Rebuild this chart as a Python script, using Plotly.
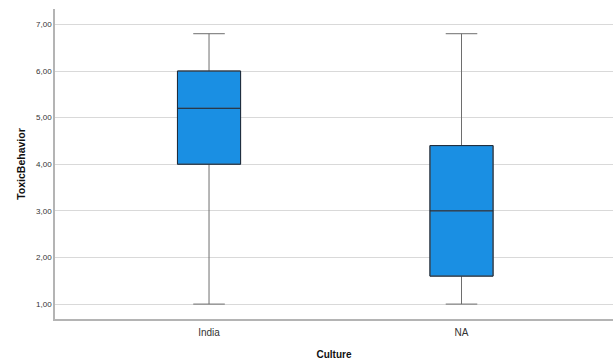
import plotly.graph_objects as go

categories = ["India", "NA"]
q1 = [4.0, 1.6]
median = [5.2, 3.0]
q3 = [6.0, 4.4]
lower = [1.0, 1.0]
upper = [6.8, 6.8]
y_ticks = [1, 2, 3, 4, 5, 6, 7]

fig = go.Figure()
# whiskers + box
fig.add_trace(go.Box(
    x=categories, q1=q1, median=median, q3=q3,
    lowerfence=lower, upperfence=upper,
    fillcolor="#1a8fe3", line=dict(color="#6e6e6e", width=1),
    width=0.25, whiskerwidth=0.5, boxpoints=False, hoverinfo="skip",
    showlegend=False,
))
# darker box outline and median
fig.add_trace(go.Box(
    x=categories, q1=q1, median=median, q3=q3,
    lowerfence=q1, upperfence=q3,
    fillcolor="rgba(0,0,0,0)", line=dict(color="#1a2a3c", width=1),
    width=0.25, whiskerwidth=0, boxpoints=False, hoverinfo="skip",
    showlegend=False,
))

fig.update_layout(
    width=613, height=360,
    margin=dict(l=55, r=0, t=9, b=41, pad=0, autoexpand=False),
    paper_bgcolor="white", plot_bgcolor="white",
    separators=",.",
    font=dict(family="Liberation Sans, Arial, sans-serif", color="#222"),
    boxmode="overlay",
    xaxis=dict(
        type="category", range=[-0.61, 1.60], automargin=False,
        showline=True, linecolor="#b4b4b4", linewidth=1.5,
        showgrid=False, ticks="", tickfont=dict(size=10, color="#333"),
        ticklabelstandoff=3,
        title=dict(text="<b>Culture</b>", font=dict(size=10, color="#111"), standoff=14),
    ),
    yaxis=dict(
        range=[0.68, 7.33], tickvals=y_ticks, tickformat=".2f", automargin=False,
        showline=True, linecolor="#b4b4b4", linewidth=1.5,
        showgrid=True, gridcolor="#d9d9d9", gridwidth=1,
        zeroline=False, ticks="", tickfont=dict(size=8, color="#333"),
        title=dict(text="<b>ToxicBehavior</b>", font=dict(size=10.5, color="#111"), standoff=8),
    ),
)

fig.write_html("out.html", config={"displayModeBar": False},
               post_script="document.body.style.margin='0';document.body.style.overflow='hidden';")
